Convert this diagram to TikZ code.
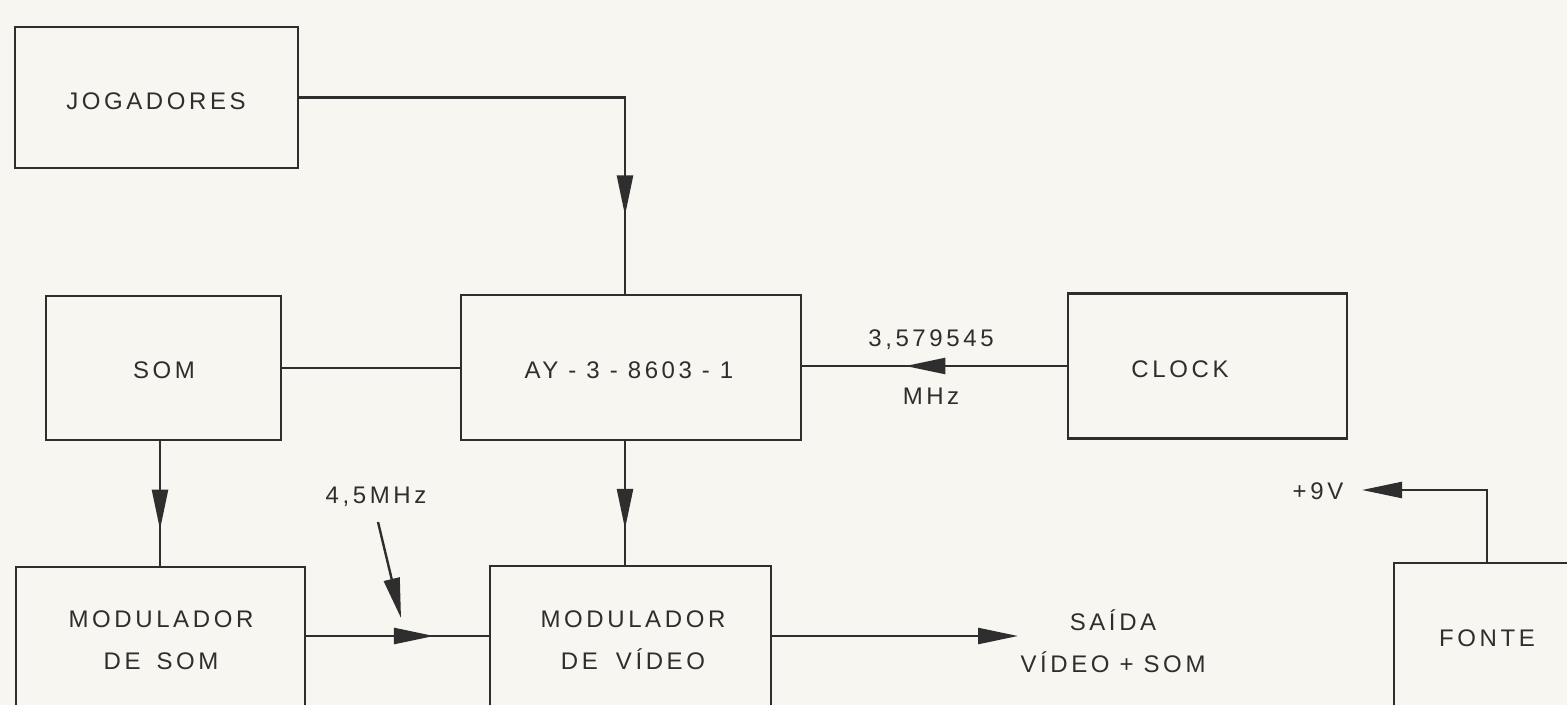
\documentclass[tikz,border=0pt]{standalone}
\usepackage{fontspec}
\setmainfont{Liberation Sans}
\usetikzlibrary{arrows.meta,decorations.markings}
\definecolor{ink}{HTML}{2E2E2E}
\definecolor{paper}{HTML}{F8F6F1}
\tikzset{
  lbl/.style={font=\addfontfeatures{LetterSpace=15}\fontsize{12}{14}\selectfont, text=ink, inner sep=0pt},
  box/.style={draw=ink, line width=1.3pt, inner sep=0pt},
  conn/.style={draw=ink, line width=1.2pt},
  tipa/.tip={Triangle[length=20pt,width=8pt]},
  midarrow/.style={postaction={decorate},
    decoration={markings, mark=at position #1 with {\arrow{tipa}}}}
}
\begin{document}
\begin{tikzpicture}[x=0.5pt,y=-0.5pt]
\useasboundingbox (0,0) rectangle (1567,705);
\fill[paper] (0,0) rectangle (1567,705);
\clip (0,0) rectangle (1567,705);

% boxes
\node[box, minimum width=141.5pt, minimum height=70.5pt] (jog) at (156.5,97.5) {};
\node[box, minimum width=117.5pt, minimum height=72pt] (som) at (163.5,368) {};
\node[box, minimum width=170pt, minimum height=72.5pt] (ay) at (631,367.5) {};
\node[box, minimum width=139.5pt, minimum height=72.5pt] (clock) at (1207.5,366) {};
\node[box, minimum width=144.5pt, minimum height=100pt] (msom) at (160.5,667) {};
\node[box, minimum width=140.5pt, minimum height=100pt] (mvid) at (630.5,666) {};
\node[box, minimum width=100pt, minimum height=100pt] (fonte) at (1494,663) {};

% texts
\node[lbl] (tjog) at (156,101) {JOGADORES};
\node[lbl] (tsom) at (164,370) {SOM};
\node[lbl] (tay) at (629,370) {AY\hspace{5pt}-\hspace{5pt}3\hspace{5pt}-\hspace{5pt}8603\hspace{5pt}-\hspace{5pt}1};
\node[lbl] (tclock) at (1180,369) {CLOCK};
\node[lbl, align=center] (tmsom) at (161,640) {MODULADOR\\[7pt]DE\hspace{8pt}SOM};
\node[lbl, align=center] (tmvid) at (633,640) {MODULADOR\\[7pt]DE\hspace{9pt}V\'IDEO};
\node[lbl] (tfonte) at (1487,638) {FONTE};
\node[lbl] (tfreq) at (931,340) {3,579545};
\node[lbl] (tmhz) at (931,396) {MHz};
\node[lbl] (t45) at (376,497) {4,5MHz};
\node[lbl, align=center] (tsaida) at (1113,641) {SA\'IDA\\[7pt]V\'IDEO\hspace{5pt}+\hspace{5pt}SOM};
\node[lbl] (t9v) at (1318,491) {+9V};

% helper coordinates
\coordinate (vx) at (625,0);
\coordinate (sx) at (160,0);
\coordinate (hy) at (0,636);
\coordinate (fx) at (1487,0);
\coordinate (lf) at (378,522);
\coordinate (lt) at (401,618);
\coordinate (out) at (1018,636);
\coordinate (nine) at (1362,490);

% connectors
\draw[conn, midarrow=0.85] (jog.east) -- (jog.east -| vx) -- (ay.north -| vx);
\draw[conn] (som.east) -- (som.east -| ay.west);
\draw[conn, midarrow=0.61] (clock.west) -- (clock.west -| ay.east);
\draw[conn, midarrow=0.71] (ay.south -| vx) -- (mvid.north -| vx);
\draw[conn, midarrow=0.71] (som.south -| sx) -- (msom.north -| sx);
\draw[conn, midarrow=0.70] (msom.east |- hy) -- (mvid.west |- hy);
\draw[conn, -{tipa}] (lf) -- (lt);
\draw[conn, -{tipa}] (mvid.east |- hy) -- (out);
\draw[conn, -{tipa}] (fonte.north -| fx) -- (fx |- nine) -- (nine);
\end{tikzpicture}
\end{document}
